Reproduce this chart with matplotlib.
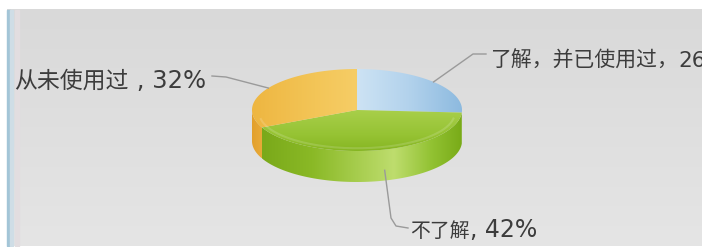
import numpy as np
import matplotlib.pyplot as plt
from matplotlib.patches import Polygon, Rectangle
from matplotlib.colors import LinearSegmentedColormap

plt.rcParams['font.family'] = ['Noto Sans CJK SC', 'DejaVu Sans']

# slice data (clockwise from 12 o'clock)
names = ['了解，并已使用过，', '不了解', '从未使用过']
shares = [26, 42, 32]
seps = ['', ', ', ' , ']

# colours for top faces and side walls of each slice
top_stops = [
    [(0.0, '#cde3f4'), (0.5, '#b2d2ec'), (1.0, '#8dbadf')],
    [(0.0, '#a8cf4a'), (0.6, '#96c334'), (1.0, '#86b622')],
    [(0.0, '#eeb641'), (0.6, '#f3c557'), (1.0, '#f6cd66')],
]
side_stops = [
    [(0.0, '#7fb0d8'), (1.0, '#7fb0d8')],
    [(0.0, '#7aa91a'), (0.25, '#8ab926'), (0.66, '#bedd6e'), (0.85, '#92c232'), (1.0, '#79ab18')],
    [(0.0, '#e2a02c'), (1.0, '#e9aa38')],
]

fig = plt.figure(figsize=(7.02, 2.47), dpi=100)
ax = fig.add_axes([0, 0, 1, 1])
ax.set_xlim(0, 702)
ax.set_ylim(247, 0)


def grad_fill(verts, stops, vertical=False, z=2):
    verts = np.asarray(verts)
    poly = Polygon(verts, closed=True, facecolor='none', edgecolor='none', zorder=z)
    ax.add_patch(poly)
    x0, x1 = verts[:, 0].min(), verts[:, 0].max()
    y0, y1 = verts[:, 1].min(), verts[:, 1].max()
    cmap = LinearSegmentedColormap.from_list('g', stops)
    arr = np.linspace(0, 1, 256)
    arr = arr[:, None] if vertical else arr[None, :]
    im = ax.imshow(arr, cmap=cmap, extent=(x0, x1, y1, y0), aspect='auto',
                   interpolation='bilinear', zorder=z)
    im.set_clip_path(poly)


# background panel
ax.add_patch(Rectangle((0, 0), 702, 247, color='white', zorder=0))
bg = LinearSegmentedColormap.from_list('bg', ['#d9d9d9', '#e5e5e5'])
ax.imshow(np.linspace(0, 1, 256)[:, None], cmap=bg, extent=(7, 702, 246, 10),
          aspect='auto', zorder=1)
ax.add_patch(Rectangle((7, 10), 2.5, 236, color='#a3c5d7', zorder=1.5))
ax.add_patch(Rectangle((9.5, 10), 3, 236, color='#cfdde6', zorder=1.5))
ax.add_patch(Rectangle((15, 10), 4, 236, color='#e2dde0', zorder=1.5))

# pie geometry
cx, cy, a, b, depth = 357, 110, 105, 41, 31
fracs = np.array(shares) / sum(shares)
bounds = 90 - 360 * np.concatenate([[0], np.cumsum(fracs)])


def rim(t, dy=0):
    t = np.radians(t)
    return np.column_stack([cx + a * np.cos(t), cy - b * np.sin(t) + dy])


# side walls (front half only)
for i in range(len(shares)):
    hi = min(bounds[i], 0)
    lo = max(bounds[i + 1], -180)
    if lo < hi:
        t = np.linspace(hi, lo, 80)
        verts = np.vstack([rim(t), rim(t[::-1], depth)])
        grad_fill(verts, side_stops[i], z=3)

# top faces
for i in range(len(shares)):
    t = np.linspace(bounds[i], bounds[i + 1], 120)
    verts = np.vstack([[cx, cy], rim(t)])
    grad_fill(verts, top_stops[i], vertical=(i == 1), z=4)

# subtle bevel ring on top
ring = rim(np.linspace(0, 360, 200))
ring = np.column_stack([cx + (ring[:, 0] - cx) * 0.93, cy + (ring[:, 1] - cy) * 0.86 + 3])
front = ring[:, 1] > cy + 8
ax.plot(np.where(front, ring[:, 0], np.nan), ring[:, 1], color='white', alpha=0.15, lw=1.5, zorder=5)

# labels with leader lines
mids = (bounds[:-1] + bounds[1:]) / 2
line_kw = dict(color='#9a9a9a', lw=1, zorder=6)
cjk_kw = dict(color='#3c3c3c', va='baseline', zorder=7, family=['Noto Sans CJK SC'])
num_kw = dict(color='#3c3c3c', va='baseline', zorder=7, family=['DejaVu Sans'])
renderer = fig.canvas.get_renderer()


def width_of(t):
    return t.get_window_extent(renderer).width


p = rim(mids[0])[0]
ax.plot([p[0], 473, 486], [p[1], 54, 54], **line_kw)
t1 = ax.text(490, 67, names[0], ha='left', fontsize=15, **cjk_kw)
ax.text(490 + width_of(t1), 67, f'{seps[0]}{shares[0]}%', ha='left', fontsize=15.5, **num_kw)

p = rim(mids[1], 20)[0]
ax.plot([p[0] + 8, 391, 396, 408], [p[1], 218, 226, 228], **line_kw)
t1 = ax.text(410, 237, names[1], ha='left', fontsize=14.3, **cjk_kw)
ax.text(410 + width_of(t1), 237, f'{seps[1]}{shares[1]}%', ha='left', fontsize=17, **num_kw)

p = rim(mids[2])[0]
ax.plot([p[0], 226, 212], [p[1], 77, 76], **line_kw)
t2 = ax.text(206, 88, f'{seps[2]}{shares[2]}%', ha='right', fontsize=17.5, **num_kw)
ax.text(206 - width_of(t2), 88, names[2], ha='right', fontsize=16.5, **cjk_kw)

ax.set_xlim(0, 702)
ax.set_ylim(247, 0)
ax.axis('off')
fig.savefig('out.png', dpi=100)
